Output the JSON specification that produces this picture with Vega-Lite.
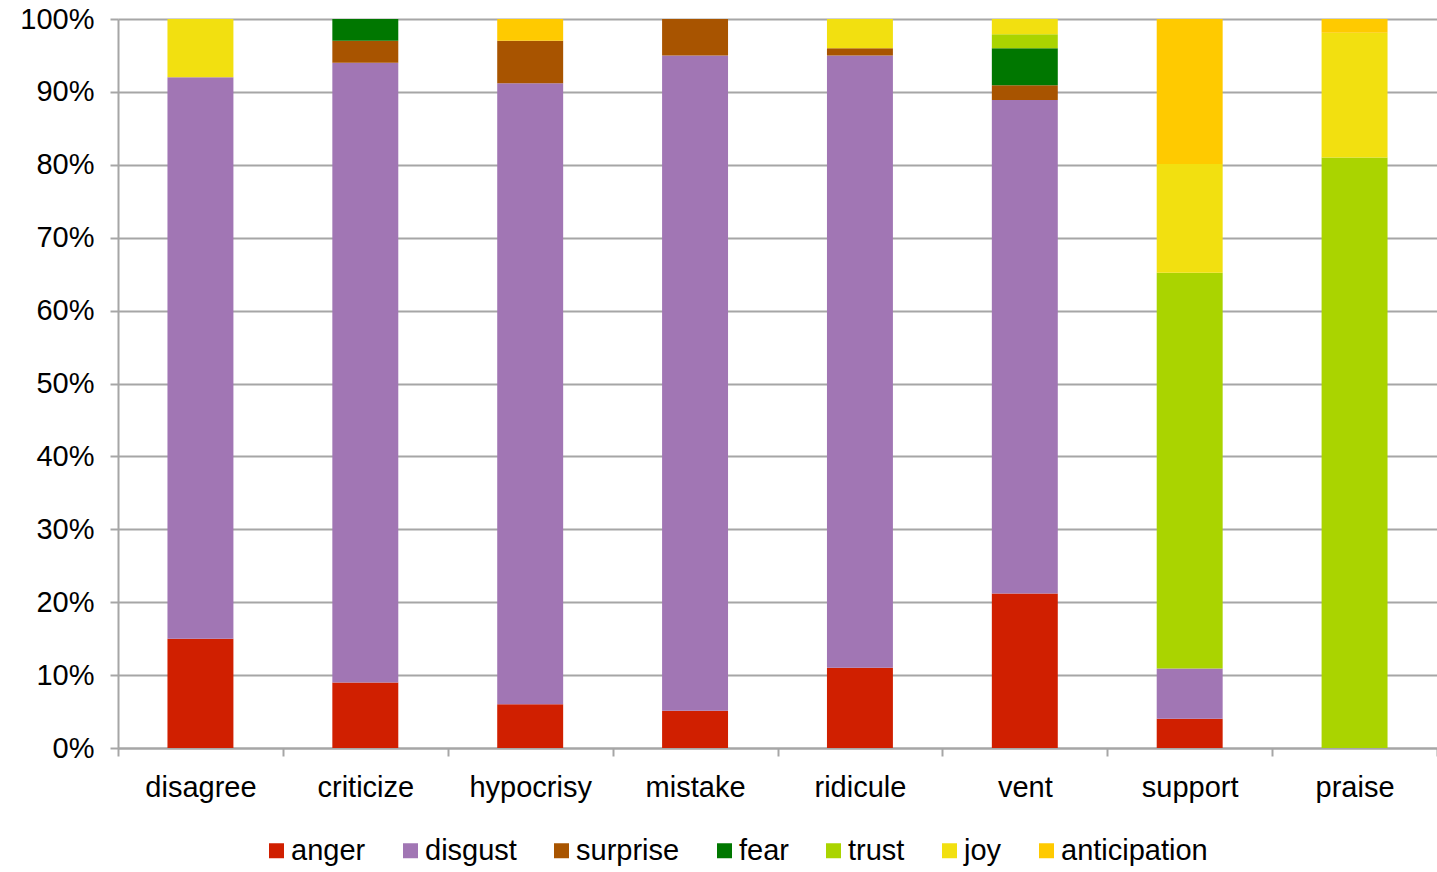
{
  "$schema": "https://vega.github.io/schema/vega-lite/v6.json",
  "width": 1319,
  "height": 729,
  "autosize": {"type": "none"},
  "padding": {"left": 118, "top": 19, "right": 0, "bottom": 124},
  "background": "white",
  "config": {
    "view": {"stroke": null},
    "font": "Liberation Sans"
  },
  "data": {
    "values": [
      {"category": "disagree", "emotion": "anger", "share": 15},
      {"category": "disagree", "emotion": "disgust", "share": 77},
      {"category": "disagree", "emotion": "joy", "share": 8},
      {"category": "criticize", "emotion": "anger", "share": 9},
      {"category": "criticize", "emotion": "disgust", "share": 85},
      {"category": "criticize", "emotion": "surprise", "share": 3},
      {"category": "criticize", "emotion": "fear", "share": 3},
      {"category": "hypocrisy", "emotion": "anger", "share": 6},
      {"category": "hypocrisy", "emotion": "disgust", "share": 85.2},
      {"category": "hypocrisy", "emotion": "surprise", "share": 5.8},
      {"category": "hypocrisy", "emotion": "anticipation", "share": 3},
      {"category": "mistake", "emotion": "anger", "share": 5.1},
      {"category": "mistake", "emotion": "disgust", "share": 89.9},
      {"category": "mistake", "emotion": "surprise", "share": 5},
      {"category": "ridicule", "emotion": "anger", "share": 11},
      {"category": "ridicule", "emotion": "disgust", "share": 84},
      {"category": "ridicule", "emotion": "surprise", "share": 1},
      {"category": "ridicule", "emotion": "joy", "share": 4},
      {"category": "vent", "emotion": "anger", "share": 21.2},
      {"category": "vent", "emotion": "disgust", "share": 67.7},
      {"category": "vent", "emotion": "surprise", "share": 2},
      {"category": "vent", "emotion": "fear", "share": 5.1},
      {"category": "vent", "emotion": "trust", "share": 1.9},
      {"category": "vent", "emotion": "joy", "share": 2.1},
      {"category": "support", "emotion": "anger", "share": 4},
      {"category": "support", "emotion": "disgust", "share": 6.9},
      {"category": "support", "emotion": "trust", "share": 54.3},
      {"category": "support", "emotion": "joy", "share": 14.9},
      {"category": "support", "emotion": "anticipation", "share": 19.9},
      {"category": "praise", "emotion": "trust", "share": 81},
      {"category": "praise", "emotion": "joy", "share": 17.1},
      {"category": "praise", "emotion": "anticipation", "share": 1.9}
    ]
  },
  "transform": [
    {"calculate": "indexof(['anger', 'disgust', 'surprise', 'fear', 'trust', 'joy', 'anticipation'], datum.emotion)", "as": "stackRank"}
  ],
  "mark": {"type": "bar", "width": {"band": 0.4}},
  "encoding": {
    "x": {
      "field": "category",
      "type": "nominal",
      "sort": ["disagree", "criticize", "hypocrisy", "mistake", "ridicule", "vent", "support", "praise"],
      "scale": {"paddingInner": 0, "paddingOuter": 0},
      "axis": {
        "title": null,
        "labelAngle": 0,
        "labelFontSize": 29,
        "labelColor": "#000000",
        "labelPadding": 17,
        "tickBand": "extent",
        "tickSize": 8,
        "tickColor": "#a6a6a6",
        "tickWidth": 2,
        "domainColor": "#a6a6a6",
        "domainWidth": 2,
        "grid": false
      }
    },
    "y": {
      "field": "share",
      "type": "quantitative",
      "stack": "normalize",
      "scale": {"domain": [0, 1], "nice": false},
      "axis": {
        "title": null,
        "format": ".0%",
        "values": [0, 0.1, 0.2, 0.3, 0.4, 0.5, 0.6, 0.7, 0.8, 0.9, 1],
        "labelFontSize": 29,
        "labelColor": "#000000",
        "labelPadding": 16,
        "tickSize": 8,
        "tickColor": "#a6a6a6",
        "tickWidth": 2,
        "domainColor": "#a6a6a6",
        "domainWidth": 2,
        "grid": true,
        "gridColor": "#a6a6a6",
        "gridWidth": 2
      }
    },
    "order": {"field": "stackRank", "type": "quantitative", "sort": "ascending"},
    "color": {
      "field": "emotion",
      "type": "nominal",
      "scale": {
        "domain": ["anger", "disgust", "surprise", "fear", "trust", "joy", "anticipation"],
        "range": ["#d01f00", "#a176b4", "#a85400", "#007700", "#aad400", "#f2e010", "#ffca00"]
      },
      "legend": {
        "title": null,
        "orient": "none",
        "legendX": 144,
        "legendY": 817,
        "direction": "horizontal",
        "symbolType": "square",
        "symbolSize": 225,
        "symbolStrokeWidth": 0,
        "labelFontSize": 29,
        "labelColor": "#000000",
        "labelOffset": 0,
        "columnPadding": 30
      }
    }
  }
}
